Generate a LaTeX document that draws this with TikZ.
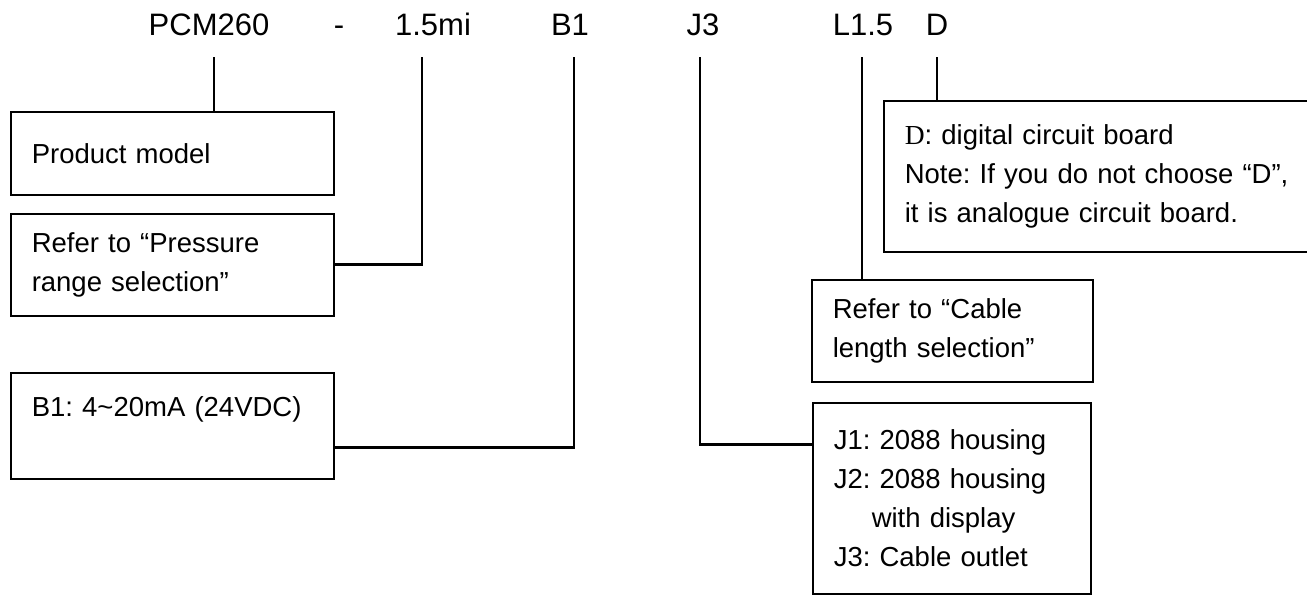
\documentclass[tikz,border=0pt]{standalone}
\usepackage{fontspec}
\setmainfont{Liberation Sans}
\newfontfamily\serifD{Liberation Serif}
\usetikzlibrary{calc}
\frenchspacing

\tikzstyle{code} = [font=\fontsize{31}{36}\selectfont, anchor=base, inner sep=0pt]
\tikzstyle{box} = [rectangle, draw=black, line width=1.5pt, anchor=north west, inner xsep=21pt, inner ysep=0pt, align=left, font=\fontsize{27.5}{39}\selectfont]
\tikzstyle{lead} = [line width=2.6pt]
\tikzstyle{thinlead} = [line width=1.1pt]

\begin{document}
\begin{tikzpicture}[x=1pt, y=-1pt]

    \useasboundingbox (0,0) rectangle (1307,595);

    % Code letters
    \node (pcm) [code] at (209,35) {PCM260};
    \node (dash) [code] at (339,35) {-};
    \node (range) [code] at (433,35) {1.5mi};
    \node (output) [code] at (570,35) {B1};
    \node (housing) [code] at (703,35) {J3};
    \node (cable) [code] at (863,35) {L1.5};
    \node (digital) [code] at (937,35) {D};

    % Line tops
    \coordinate (pcmtop) at (214,57);
    \coordinate (rangetop) at (422,57);
    \coordinate (outputtop) at (574,57);
    \coordinate (housingtop) at (700,57);
    \coordinate (cabletop) at (862,57);
    \coordinate (digitaltop) at (937,57);

    % Boxes
    \node (prodbox) [box, text width=281, minimum height=83] at (10,111) {Product model};
    \node (rangebox) [box, text width=281, minimum height=102] at (10,213) {Refer to “Pressure\\range selection”};
    \node (outputbox) [box, text width=281, minimum height=106] at (10,372) {B1: 4\textasciitilde20mA (24VDC)\\\mbox{}};
    \node (digitalbox) [box, text width=395, minimum height=151] at (883,100) {
        {\serifD D}: digital circuit board\\
        Note: If you do not choose “D”,\\
        it is analogue circuit board.
    };
    \node (cablebox) [box, text width=239, minimum height=102] at (811,279) {Refer to “Cable\\length selection”};
    \node (housingbox) [box, text width=236, minimum height=191] at (812,402) {
        J1: 2088 housing\\
        J2: 2088 housing\\
        \hspace*{38pt}with display\\
        J3: Cable outlet
    };

    % Lines
    \draw [lead] (pcmtop) -- (pcmtop |- prodbox.north);
    \draw [lead] (rangetop) |- (rangebox.east);
    \draw [lead] (outputtop) |- ($(outputbox.south east)!0.3!(outputbox.north east)$);
    \draw [lead] (housingtop) |- ($(housingbox.north west)!0.22!(housingbox.south west)$);
    \draw [lead] (cabletop) -- (cabletop |- cablebox.north);
    \draw [thinlead] (digitaltop) -- (digitaltop |- digitalbox.north);

\end{tikzpicture}
\end{document}
